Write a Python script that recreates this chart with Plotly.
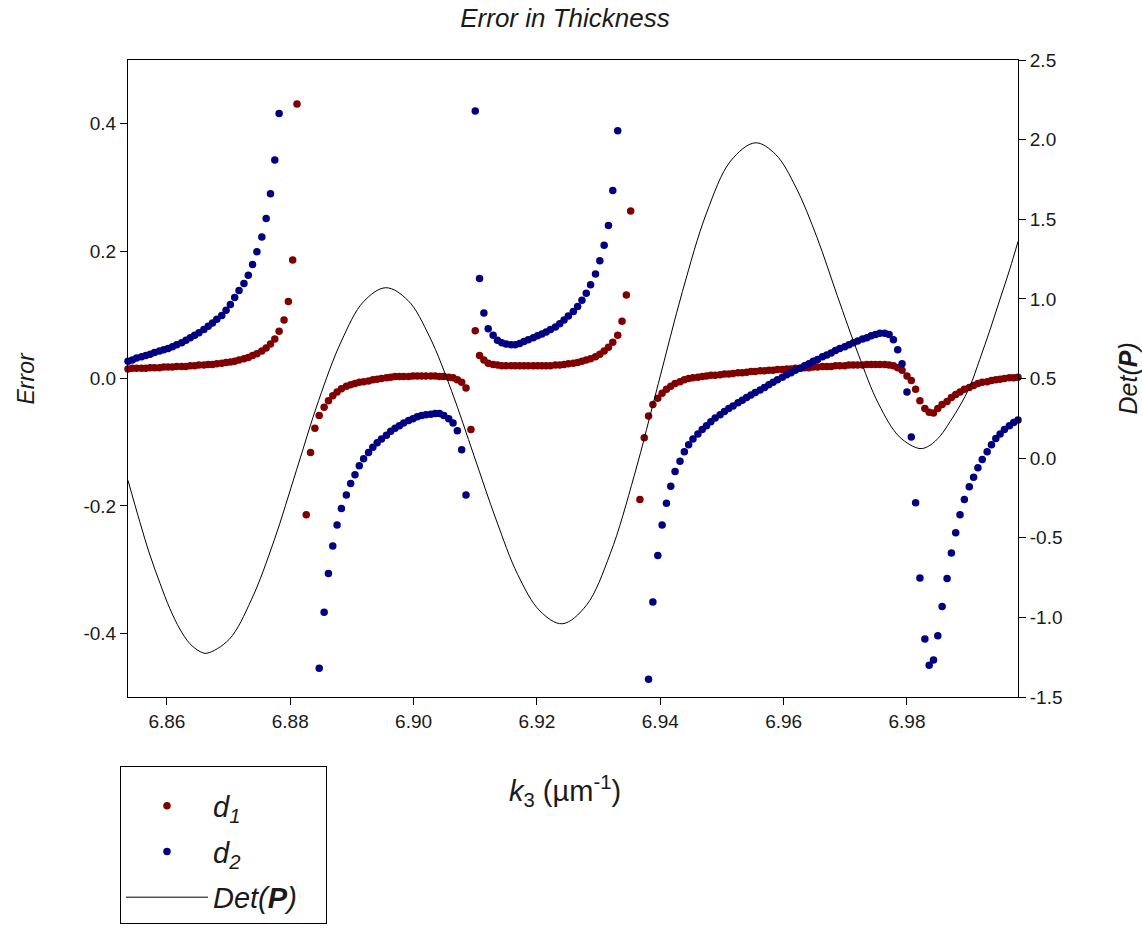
import plotly.graph_objects as go

# k3 sampling (um^-1)
k3 = [
    6.8537, 6.8544, 6.8551, 6.8559, 6.8566, 6.8573, 6.8580, 6.8588, 6.8595, 6.8602,
    6.8609, 6.8616, 6.8624, 6.8631, 6.8638, 6.8645, 6.8652, 6.8660, 6.8667, 6.8674,
    6.8681, 6.8689, 6.8696, 6.8703, 6.8710, 6.8717, 6.8725, 6.8732, 6.8739, 6.8746,
    6.8754, 6.8761, 6.8768, 6.8775, 6.8782, 6.8790, 6.8797, 6.8804, 6.8811, 6.8818,
    6.8826, 6.8833, 6.8840, 6.8847, 6.8855, 6.8862, 6.8869, 6.8876, 6.8883, 6.8891,
    6.8898, 6.8905, 6.8912, 6.8919, 6.8927, 6.8934, 6.8941, 6.8948, 6.8956, 6.8963,
    6.8970, 6.8977, 6.8984, 6.8992, 6.8999, 6.9006, 6.9013, 6.9020, 6.9028, 6.9035,
    6.9042, 6.9049, 6.9057, 6.9064, 6.9071, 6.9078, 6.9085, 6.9093, 6.9100, 6.9107,
    6.9114, 6.9121, 6.9129, 6.9136, 6.9143, 6.9150, 6.9158, 6.9165, 6.9172, 6.9179,
    6.9186, 6.9194, 6.9201, 6.9208, 6.9215, 6.9222, 6.9230, 6.9237, 6.9244, 6.9251,
    6.9259, 6.9266, 6.9273, 6.9280, 6.9287, 6.9295, 6.9302, 6.9309, 6.9316, 6.9323,
    6.9331, 6.9338, 6.9345, 6.9352, 6.9360, 6.9367, 6.9374, 6.9381, 6.9388, 6.9396,
    6.9403, 6.9410, 6.9417, 6.9424, 6.9432, 6.9439, 6.9446, 6.9453, 6.9461, 6.9468,
    6.9475, 6.9482, 6.9489, 6.9497, 6.9504, 6.9511, 6.9518, 6.9526, 6.9533, 6.9540,
    6.9547, 6.9554, 6.9562, 6.9569, 6.9576, 6.9583, 6.9590, 6.9598, 6.9605, 6.9612,
    6.9619, 6.9627, 6.9634, 6.9641, 6.9648, 6.9655, 6.9663, 6.9670, 6.9677, 6.9684,
    6.9691, 6.9699, 6.9706, 6.9713, 6.9720, 6.9728, 6.9735, 6.9742, 6.9749, 6.9756,
    6.9764, 6.9771, 6.9778, 6.9785, 6.9792, 6.9800, 6.9807, 6.9814, 6.9821, 6.9829,
    6.9836, 6.9843, 6.9850, 6.9857, 6.9865, 6.9872, 6.9879, 6.9886, 6.9893, 6.9901,
    6.9908, 6.9915, 6.9922, 6.9930, 6.9937, 6.9944, 6.9951, 6.9958, 6.9966, 6.9973,
    6.9980,
]

# error in d1
d1_error = [
    0.015, 0.016, 0.016, 0.016, 0.016, 0.017, 0.017, 0.017, 0.018, 0.018,
    0.018, 0.019, 0.019, 0.019, 0.020, 0.020, 0.021, 0.021, 0.022, 0.022,
    0.023, 0.024, 0.025, 0.026, 0.027, 0.029, 0.031, 0.033, 0.036, 0.039,
    0.043, 0.048, 0.054, 0.062, 0.074, 0.092, 0.121, 0.186, 0.431, None,
    -0.214, -0.116, -0.078, -0.058, -0.045, -0.035, -0.027, -0.021, -0.016, -0.012,
    -0.010, -0.008, -0.006, -0.005, -0.004, -0.002, -0.001, 0.000, 0.001, 0.002,
    0.003, 0.003, 0.003, 0.003, 0.004, 0.004, 0.004, 0.004, 0.004, 0.004,
    0.003, 0.003, 0.002, 0.001, -0.002, -0.006, -0.015, -0.080, 0.075, 0.036,
    0.029, 0.024, 0.022, 0.021, 0.020, 0.020, 0.020, 0.020, 0.020, 0.020,
    0.020, 0.020, 0.020, 0.020, 0.020, 0.020, 0.021, 0.021, 0.022, 0.023,
    0.024, 0.025, 0.027, 0.029, 0.031, 0.034, 0.038, 0.043, 0.049, 0.057,
    0.068, 0.090, 0.131, 0.263, None, -0.190, -0.093, -0.059, -0.041, -0.031,
    -0.023, -0.017, -0.012, -0.008, -0.005, -0.002, 0.000, 0.001, 0.002, 0.003,
    0.004, 0.005, 0.005, 0.006, 0.007, 0.007, 0.008, 0.009, 0.009, 0.010,
    0.011, 0.011, 0.012, 0.012, 0.013, 0.013, 0.014, 0.014, 0.015, 0.015,
    0.016, 0.016, 0.017, 0.017, 0.018, 0.018, 0.019, 0.019, 0.019, 0.020,
    0.020, 0.020, 0.021, 0.021, 0.021, 0.021, 0.022, 0.022, 0.022, 0.022,
    0.022, 0.021, 0.020, 0.017, 0.013, 0.004, -0.003, -0.017, -0.035, -0.047,
    -0.053, -0.054, -0.047, -0.041, -0.036, -0.030, -0.025, -0.021, -0.017, -0.014,
    -0.011, -0.008, -0.006, -0.005, -0.003, -0.002, -0.001, 0.000, 0.001, 0.001,
    0.002,
]

# error in d2
d2_error = [
    0.027, 0.029, 0.032, 0.034, 0.036, 0.038, 0.041, 0.043, 0.045, 0.047,
    0.050, 0.053, 0.056, 0.060, 0.064, 0.068, 0.072, 0.077, 0.082, 0.087,
    0.093, 0.099, 0.107, 0.116, 0.127, 0.138, 0.149, 0.162, 0.179, 0.199,
    0.222, 0.251, 0.290, 0.343, 0.416, None, None, None, None, None,
    None, None, None, -0.455, -0.367, -0.306, -0.263, -0.230, -0.204, -0.183,
    -0.165, -0.151, -0.137, -0.126, -0.116, -0.108, -0.101, -0.095, -0.089, -0.083,
    -0.078, -0.074, -0.070, -0.066, -0.063, -0.060, -0.058, -0.057, -0.056, -0.055,
    -0.055, -0.058, -0.063, -0.070, -0.082, -0.112, -0.183, None, 0.420, 0.157,
    0.103, 0.078, 0.068, 0.060, 0.056, 0.054, 0.053, 0.053, 0.055, 0.058,
    0.061, 0.064, 0.067, 0.070, 0.073, 0.077, 0.081, 0.086, 0.092, 0.098,
    0.105, 0.113, 0.123, 0.134, 0.147, 0.164, 0.185, 0.209, 0.240, 0.295,
    0.389, None, None, None, None, None, None, -0.472, -0.351, -0.278,
    -0.230, -0.196, -0.169, -0.146, -0.130, -0.115, -0.104, -0.095, -0.087, -0.080,
    -0.074, -0.068, -0.062, -0.057, -0.052, -0.047, -0.043, -0.038, -0.034, -0.030,
    -0.026, -0.022, -0.018, -0.014, -0.010, -0.006, -0.002, 0.002, 0.006, 0.009,
    0.013, 0.016, 0.020, 0.023, 0.027, 0.030, 0.034, 0.037, 0.040, 0.044,
    0.047, 0.050, 0.053, 0.056, 0.059, 0.062, 0.064, 0.067, 0.069, 0.071,
    0.071, 0.069, 0.061, 0.045, 0.023, -0.021, -0.092, -0.195, -0.313, -0.409,
    -0.450, -0.442, -0.404, -0.358, -0.314, -0.274, -0.242, -0.214, -0.190, -0.170,
    -0.155, -0.140, -0.127, -0.115, -0.104, -0.094, -0.087, -0.080, -0.074, -0.069,
    -0.065,
]

# Det(P) curve
det_k = [
    6.8537, 6.8556, 6.8572, 6.8589, 6.8605, 6.8621, 6.8637, 6.8654, 6.8665,
    6.8701, 6.8737, 6.8774, 6.8810, 6.8846, 6.8883, 6.8919, 6.8955,
    6.8991, 6.9026, 6.9062, 6.9098, 6.9134, 6.9169, 6.9205, 6.9241,
    6.9280, 6.9319, 6.9358, 6.9397, 6.9436, 6.9475, 6.9514, 6.9554,
    6.9587, 6.9620, 6.9654, 6.9687, 6.9721, 6.9754, 6.9788, 6.9821,
    6.9837, 6.9854, 6.9870, 6.9886, 6.9902, 6.9918, 6.9935, 6.9951, 6.9967, 6.9980,
]
det_p = [
    -0.14, -0.398, -0.602, -0.787, -0.946, -1.073, -1.164, -1.215, -1.225,
    -1.138, -0.89, -0.516, -0.0775, 0.361, 0.735, 0.983, 1.07,
    0.990, 0.762, 0.418, 0.015, -0.388, -0.732, -0.960, -1.04,
    -0.925, -0.599, -0.107, 0.47, 1.047, 1.539, 1.865, 1.98,
    1.907, 1.70, 1.387, 1.02, 0.653, 0.34, 0.133, 0.06,
    0.08, 0.14, 0.23, 0.33, 0.45, 0.62, 0.81, 1.00, 1.19, 1.36,
]

x_ticks = [6.86, 6.88, 6.90, 6.92, 6.94, 6.96, 6.98]
x_ticktext = ["6.86", "6.88", "6.90", "6.92", "6.94", "6.96", "6.98"]
y_ticks = [-0.4, -0.2, 0.0, 0.2, 0.4]
y_ticktext = ["-0.4", "-0.2", "0.0", "0.2", "0.4"]
y2_ticks = [-1.5, -1.0, -0.5, 0.0, 0.5, 1.0, 1.5, 2.0, 2.5]
y2_ticktext = ["-1.5", "-1.0", "-0.5", "0.0", "0.5", "1.0", "1.5", "2.0", "2.5"]

FONT = "Arial, Liberation Sans, sans-serif"
TXT = "#1a1a1a"
RED = "#800000"
BLUE = "#000080"

fig = go.Figure()
fig.add_trace(go.Scatter(
    x=det_k, y=det_p, mode="lines",
    name="<i>Det(<b>P</b>)</i>&nbsp;&nbsp;&nbsp;",
    line=dict(color="black", width=1, shape="spline", smoothing=1.0),
    yaxis="y2", legendgroup="c", legendrank=3,
))
fig.add_trace(go.Scatter(
    x=k3, y=d1_error, mode="markers", name="<i>d<sub>1</sub></i>",
    marker=dict(color=RED, size=7.5, symbol="circle"),
    cliponaxis=False, legendgroup="a", legendrank=1,
))
fig.add_trace(go.Scatter(
    x=k3, y=d2_error, mode="markers", name="<i>d<sub>2</sub></i>",
    marker=dict(color=BLUE, size=7.5, symbol="circle"),
    cliponaxis=False, legendgroup="b", legendrank=2,
))

axis_common = dict(
    showline=True, linecolor="black", linewidth=1, ticks="outside",
    ticklen=7, tickcolor="black", showgrid=False, zeroline=False,
    tickfont=dict(family=FONT, size=19, color=TXT),
)

fig.update_layout(
    width=1142, height=936, autosize=False,
    margin=dict(l=128, r=124, t=60, b=236),
    paper_bgcolor="white", plot_bgcolor="white",
    font=dict(family=FONT, color=TXT),
    title=dict(text="<i>Error in Thickness</i>", x=0.491, xref="paper",
               xanchor="center", y=0.9808, yanchor="middle",
               font=dict(family=FONT, size=26, color=TXT)),
    xaxis=dict(range=[6.8537, 6.998], tickvals=x_ticks, ticktext=x_ticktext,
               mirror=True, **axis_common),
    yaxis=dict(range=[-0.5, 0.5], tickvals=y_ticks, ticktext=y_ticktext,
               **axis_common),
    yaxis2=dict(range=[-1.5, 2.5], tickvals=y2_ticks, ticktext=y2_ticktext,
                overlaying="y", side="right", **axis_common),
    showlegend=True,
    legend=dict(x=-0.009, y=-0.109, xanchor="left", yanchor="top",
                bordercolor="black", borderwidth=1, bgcolor="white",
                font=dict(family=FONT, size=29, color=TXT),
                title=dict(text=" ", font=dict(size=10)),
                traceorder="grouped", tracegroupgap=5, itemwidth=82),
    annotations=[
        dict(text="<i>Error</i>", xref="paper", yref="paper", x=-0.1157, y=0.5,
             textangle=-90, showarrow=False, xanchor="center", yanchor="middle",
             font=dict(family=FONT, size=23, color=TXT)),
        dict(text="<i>Det(<b>P</b>)</i>", xref="paper", yref="paper", x=1.1225, y=0.5,
             textangle=-90, showarrow=False, xanchor="center", yanchor="middle",
             font=dict(family=FONT, size=25, color=TXT)),
        dict(text="<i>k</i><sub>3</sub> (µm<sup>-1</sup>)", xref="paper", yref="paper",
             x=0.491, y=-0.148, showarrow=False, xanchor="center", yanchor="middle",
             font=dict(family=FONT, size=29, color=TXT)),
    ],
)

fig.write_html(
    "out.html",
    config={"displayModeBar": False},
    post_script="document.body.style.margin='0px';document.body.style.overflow='hidden';",
)
